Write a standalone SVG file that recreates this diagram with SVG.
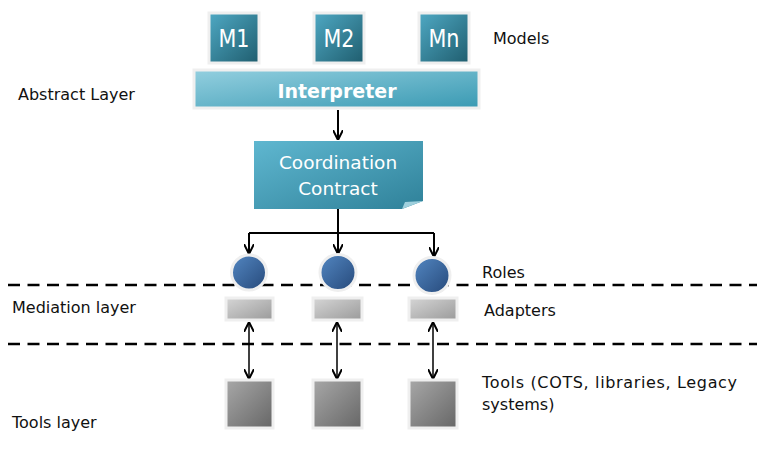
<svg xmlns="http://www.w3.org/2000/svg" width="757" height="450" viewBox="0 0 757 450">
<defs>
<linearGradient id="gM" x1="0" y1="0" x2="1" y2="1"><stop offset="0" stop-color="#4fa9c4"/><stop offset="1" stop-color="#1f5d6e"/></linearGradient>
<linearGradient id="gI" x1="0" y1="0" x2="1" y2="1"><stop offset="0" stop-color="#93cfdf"/><stop offset="1" stop-color="#3a9ab3"/></linearGradient>
<linearGradient id="gC" x1="0" y1="0" x2="1" y2="1"><stop offset="0" stop-color="#5fb7d0"/><stop offset="1" stop-color="#2f8199"/></linearGradient>
<linearGradient id="gR" x1="0" y1="0" x2="1" y2="1"><stop offset="0" stop-color="#5387c2"/><stop offset="1" stop-color="#26497a"/></linearGradient>
<linearGradient id="gA" x1="0" y1="0" x2="1" y2="1"><stop offset="0" stop-color="#d6d6d6"/><stop offset="1" stop-color="#9a9a9a"/></linearGradient>
<linearGradient id="gT" x1="0" y1="0" x2="1" y2="1"><stop offset="0" stop-color="#a8a8a8"/><stop offset="1" stop-color="#666"/></linearGradient>
<marker id="ah" viewBox="0 0 10 10" refX="9" refY="5" markerWidth="10" markerHeight="10" markerUnits="userSpaceOnUse" orient="auto-start-reverse"><path d="M0,0 L10,5 L0,10" fill="none" stroke="#000" stroke-width="2"/></marker>
<style>
.lbl{font-family:"DejaVu Sans",Verdana,sans-serif;font-size:16px;fill:#111}
.wt{font-family:"DejaVu Sans",Verdana,sans-serif;fill:#fff;text-anchor:middle}
.box{stroke:#efefef;stroke-width:3}
.dash{stroke:#000;stroke-width:2.5;stroke-dasharray:12 7.5;fill:none}
.con{stroke:#000;stroke-width:2;fill:none}
.con2{stroke:#000;stroke-width:1.5;fill:none}
</style>
</defs>

<g id="connectors">
<line class="con" x1="338" y1="110" x2="338" y2="139" marker-end="url(#ah)"/>
<path class="con" d="M338,209 V233"/>
<path class="con" d="M249,233 H434"/>
<line class="con" x1="249" y1="233" x2="249" y2="253" marker-end="url(#ah)"/>
<line class="con" x1="338" y1="233" x2="338" y2="253" marker-end="url(#ah)"/>
<line class="con" x1="434" y1="233" x2="434" y2="256" marker-end="url(#ah)"/>
<line class="con2" x1="249" y1="323" x2="249" y2="378" marker-start="url(#ah)" marker-end="url(#ah)"/>
<line class="con2" x1="337" y1="323" x2="337" y2="378" marker-start="url(#ah)" marker-end="url(#ah)"/>
<line class="con2" x1="433" y1="323" x2="433" y2="378" marker-start="url(#ah)" marker-end="url(#ah)"/>
</g>

<g id="layers">
<line class="dash" x1="8" y1="285" x2="757" y2="285"/>
<line class="dash" x1="8" y1="344" x2="757" y2="344"/>
</g>

<g id="m1"><rect class="box" x="209" y="13" width="50" height="50" fill="url(#gM)"/><text class="wt" x="234" y="47" font-size="24" textLength="31" lengthAdjust="spacingAndGlyphs">M1</text></g>
<g id="m2"><rect class="box" x="314" y="13" width="50" height="50" fill="url(#gM)"/><text class="wt" x="339" y="47" font-size="24" textLength="31" lengthAdjust="spacingAndGlyphs">M2</text></g>
<g id="mn"><rect class="box" x="419" y="13" width="50" height="50" fill="url(#gM)"/><text class="wt" x="444" y="47" font-size="24" textLength="31" lengthAdjust="spacingAndGlyphs">Mn</text></g>

<g id="interpreter"><rect class="box" x="194" y="70" width="285" height="38" fill="url(#gI)"/><text class="wt" x="337" y="98" font-size="19" font-weight="bold">Interpreter</text></g>

<g id="contract"><path d="M254,141 H423 V201 L402,209 H254 Z" fill="url(#gC)"/><path d="M423,201 L402,209 L405,202 Z" fill="#9fd0dd"/>
<text class="wt" x="338" y="169" font-size="18.5">Coordination</text><text class="wt" x="338" y="195" font-size="18.5">Contract</text></g>

<g id="role1"><circle class="box" cx="249" cy="272.5" r="17.5" fill="url(#gR)" stroke-width="2"/></g>
<g id="role2"><circle class="box" cx="338" cy="272.5" r="18" fill="url(#gR)" stroke-width="2"/></g>
<g id="role3"><circle class="box" cx="432" cy="275.5" r="18" fill="url(#gR)" stroke-width="2"/></g>

<g id="adapter1"><rect class="box" x="226" y="298" width="47" height="22" fill="url(#gA)" stroke-width="2"/></g>
<g id="adapter2"><rect class="box" x="313" y="298" width="49" height="22" fill="url(#gA)" stroke-width="2"/></g>
<g id="adapter3"><rect class="box" x="409" y="298" width="48" height="22" fill="url(#gA)" stroke-width="2"/></g>

<g id="tool1"><rect class="box" x="226" y="380" width="47" height="48" fill="url(#gT)" stroke-width="2"/></g>
<g id="tool2"><rect class="box" x="313" y="380" width="49" height="48" fill="url(#gT)" stroke-width="2"/></g>
<g id="tool3"><rect class="box" x="409" y="380" width="48" height="48" fill="url(#gT)" stroke-width="2"/></g>

<g id="labels">
<text class="lbl" x="493" y="44">Models</text>
<text class="lbl" x="18" y="100">Abstract Layer</text>
<text class="lbl" x="482" y="278">Roles</text>
<text class="lbl" x="12" y="313">Mediation layer</text>
<text class="lbl" x="484" y="316">Adapters</text>
<text class="lbl" x="482" y="388" textLength="255" lengthAdjust="spacing">Tools (COTS, libraries, Legacy</text>
<text class="lbl" x="482" y="410">systems)</text>
<text class="lbl" x="12" y="428">Tools layer</text>
</g>
</svg>
